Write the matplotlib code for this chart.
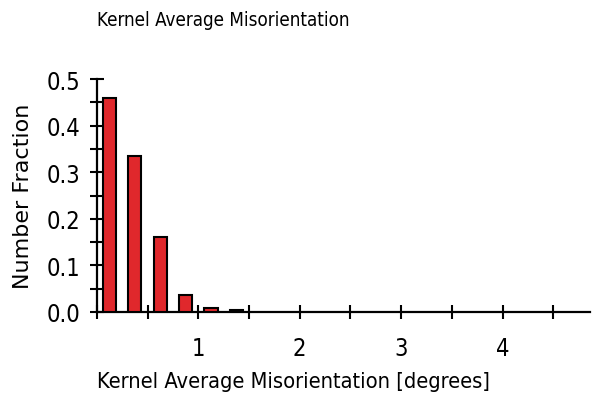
import matplotlib
matplotlib.use('Agg')
import matplotlib.pyplot as plt
from matplotlib.ticker import MultipleLocator, FixedLocator, FormatStrFormatter

# bin centres [degrees] and number fraction per bin
kam_centres = [0.125, 0.375, 0.625, 0.875, 1.125, 1.375]
kam_fraction = [0.459, 0.335, 0.162, 0.037, 0.009, 0.005]

x_ticklabels = ['1', '2', '3', '4']
x_tickvals = [1, 2, 3, 4]

plt.rcParams['font.family'] = ['DejaVu Sans']
plt.rcParams['font.stretch'] = 'condensed'

fig = plt.figure(figsize=(5.94, 4.10), dpi=100)
ax = fig.add_axes([0.163, 0.2366, 0.83, 0.568])

ax.bar(kam_centres, kam_fraction, width=0.13, color='#e0282c',
       edgecolor='black', linewidth=1.5, zorder=3)

ax.set_xlim(0, 4.86)
ax.set_ylim(0, 0.5)
for s in ['top', 'right']:
    ax.spines[s].set_visible(False)
for s in ['left', 'bottom']:
    ax.spines[s].set_linewidth(1.6)

ax.xaxis.set_major_locator(FixedLocator(x_tickvals))
ax.set_xticklabels(x_ticklabels)
ax.xaxis.set_minor_locator(MultipleLocator(0.5))
ax.yaxis.set_major_locator(MultipleLocator(0.1))
ax.yaxis.set_minor_locator(MultipleLocator(0.05))
ax.yaxis.set_major_formatter(FormatStrFormatter('%.1f'))
ax.tick_params(which='both', direction='inout', length=10, width=1.5, colors='black')
ax.tick_params(axis='both', labelsize=17)
ax.tick_params(axis='x', pad=12)
ax.tick_params(axis='y', pad=7)

ax.set_xlabel('Kernel Average Misorientation [degrees]', fontsize=15.7, labelpad=8, loc='left')
ax.set_ylabel('Number Fraction', fontsize=16, labelpad=10, fontstretch='normal')
ax.set_title('Kernel Average Misorientation', fontsize=13.5, loc='left', pad=39)

fig.savefig('out.png', dpi=100)
